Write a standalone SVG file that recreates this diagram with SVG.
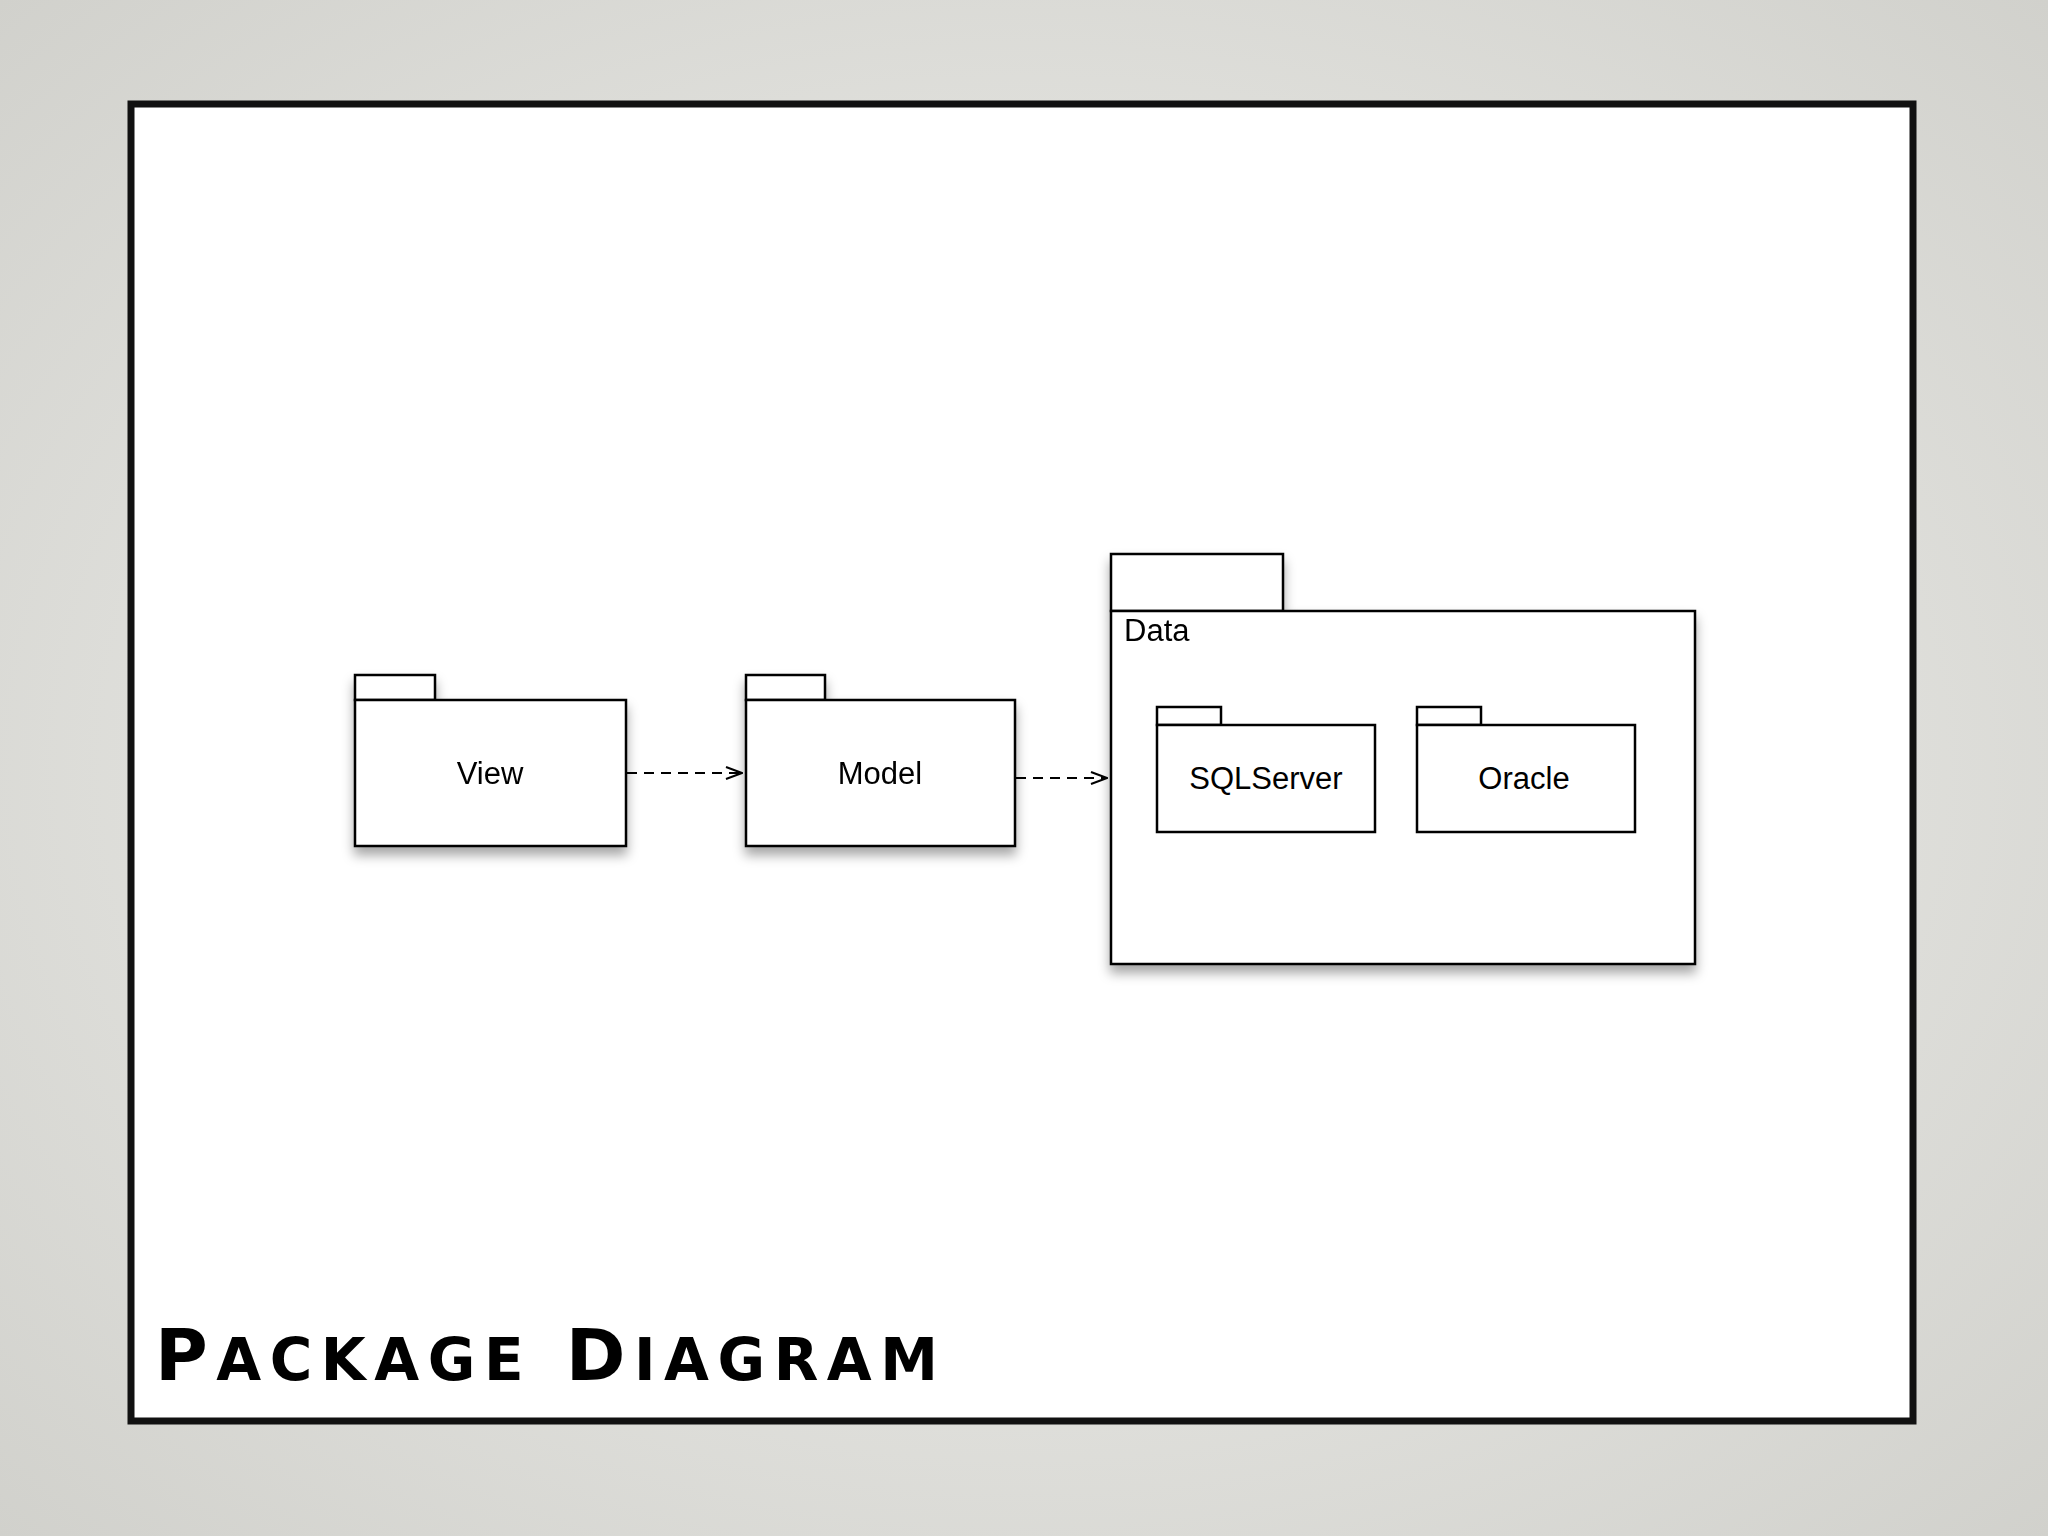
<svg xmlns="http://www.w3.org/2000/svg" width="2048" height="1536" viewBox="0 0 2048 1536">
<defs>
<radialGradient id="bg" cx="50%" cy="50%" r="75%"><stop offset="0" stop-color="#f2f2ef"/><stop offset="1" stop-color="#cfcfca"/></radialGradient>
<filter id="sh" x="-10%" y="-10%" width="130%" height="130%"><feDropShadow dx="0" dy="8" stdDeviation="6" flood-color="#000" flood-opacity="0.35"/></filter>
<marker id="ah" markerWidth="18" markerHeight="14" refX="17" refY="7" orient="auto" markerUnits="userSpaceOnUse"><path d="M1,1 L17,7 L1,13" fill="none" stroke="#000" stroke-width="2"/></marker>
<style>
.p{fill:#fff;stroke:#000;stroke-width:2.5}
.t{font-family:"Liberation Sans",Arial,sans-serif;font-size:31px;fill:#000}
.c{stroke:#000;stroke-width:2;stroke-dasharray:10,7;fill:none}
.s{font-size:58px}
</style>
</defs>
<rect width="2048" height="1536" fill="url(#bg)"/>
<rect x="131" y="104" width="1782" height="1317" fill="#fff" stroke="#111" stroke-width="7"/>
<g id="view" filter="url(#sh)"><rect class="p" x="355" y="675" width="80" height="25"/><rect class="p" x="355" y="700" width="271" height="146"/><text class="t" x="490" y="784" text-anchor="middle">View</text></g>
<g id="model" filter="url(#sh)"><rect class="p" x="746" y="675" width="79" height="25"/><rect class="p" x="746" y="700" width="269" height="146"/><text class="t" x="880" y="784" text-anchor="middle">Model</text></g>
<g id="data" filter="url(#sh)"><rect class="p" x="1111" y="554" width="172" height="57"/><rect class="p" x="1111" y="611" width="584" height="353"/><text class="t" x="1124" y="641">Data</text></g>
<g id="sqlserver"><rect class="p" x="1157" y="707" width="64" height="18"/><rect class="p" x="1157" y="725" width="218" height="107"/><text class="t" x="1266" y="789" text-anchor="middle">SQLServer</text></g>
<g id="oracle"><rect class="p" x="1417" y="707" width="64" height="18"/><rect class="p" x="1417" y="725" width="218" height="107"/><text class="t" x="1524" y="789" text-anchor="middle">Oracle</text></g>
<g id="connectors"><path class="c" d="M627,773 H742" marker-end="url(#ah)"/><path class="c" d="M1016,778 H1107" marker-end="url(#ah)"/></g>
<text x="155" y="1380" font-family="DejaVu Sans,sans-serif" font-weight="bold" font-size="72" letter-spacing="2" textLength="785" lengthAdjust="spacing" fill="#000">P<tspan class="s">ACKAGE</tspan> D<tspan class="s">IAGRAM</tspan></text>
</svg>
